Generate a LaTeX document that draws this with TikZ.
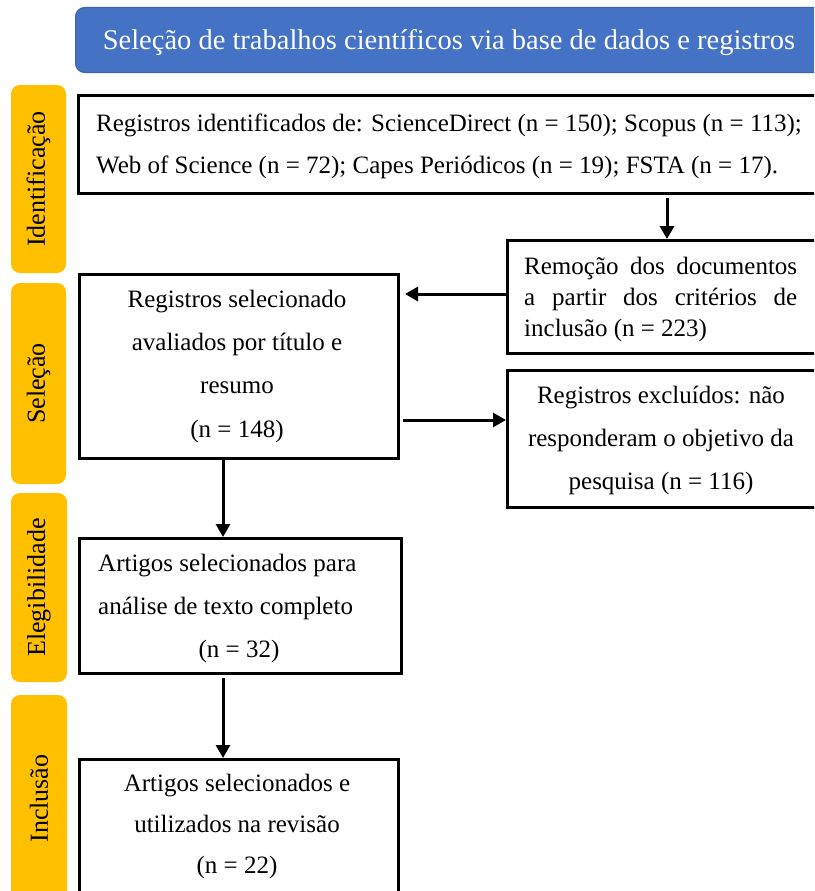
\documentclass[tikz,border=0pt]{standalone}
\usepackage{fontspec}
\setmainfont{Liberation Serif}
\usetikzlibrary{arrows.meta}
\definecolor{hdrblue}{HTML}{4472C4}
\definecolor{hdredge}{HTML}{3B65B0}
\definecolor{lblgold}{HTML}{FFC000}
\begin{document}
\begin{tikzpicture}[x=1pt,y=-1pt,
  boxnode/.style={draw=black, line width=3pt, rectangle, inner sep=0pt, anchor=north west},
  lblnode/.style={fill=lblgold, rounded corners=9pt, rotate=90, inner sep=0pt, font=\fontsize{26}{30}\selectfont},
  txt/.style={inner sep=0pt, font=\fontsize{25}{43.3}\selectfont, align=center, anchor=north},
  arr/.style={line width=3pt, -{Triangle[length=13pt,width=14pt]}}]
\useasboundingbox (0,0) rectangle (814,891);
\clip (0,0) rectangle (814,891);

% header
\node[fill=hdrblue, draw=hdredge, line width=1pt, rounded corners=9pt, minimum width=755pt, minimum height=65pt, anchor=north west, inner sep=0pt] (hdr) at (75,7) {};
\node[inner sep=0pt, anchor=base, text=white, font=\fontsize{28.5}{34}\selectfont] (thdr) at (449,50) {Seleção de trabalhos científicos via base de dados e registros};

% side labels
\node[lblnode, minimum width=188pt, minimum height=55pt] (l1) at (38.5,179) {Identificação};
\node[lblnode, minimum width=201pt, minimum height=55pt] (l2) at (38.5,383.5) {Seleção};
\node[lblnode, minimum width=189pt, minimum height=56pt] (l3) at (39,587.5) {Elegibilidade};
\node[lblnode, minimum width=207pt, minimum height=56pt] (l4) at (39,798.5) {Inclusão};

% boxes
\node[boxnode, minimum width=753pt, minimum height=98pt] (b1) at (77,94) {};
\node[boxnode, minimum width=324pt, minimum height=113pt] (b2) at (506,239) {};
\node[boxnode, minimum width=319pt, minimum height=184pt] (b3) at (78,273) {};
\node[boxnode, minimum width=324pt, minimum height=137pt] (b4) at (506,369) {};
\node[boxnode, minimum width=322pt, minimum height=135pt] (b5) at (78,537) {};
\node[boxnode, minimum width=319pt, minimum height=160pt] (b6) at (78,758) {};

% texts
\node[txt, align=left, anchor=north west, font=\fontsize{25}{42}\selectfont] (t1) at (96,101.6)
  {\strut Registros identificados de: ScienceDirect (n = 150); Scopus (n = 113);\\
   Web of Science (n = 72); Capes Periódicos (n = 19); FSTA (n = 17).};
\node[txt, align=left, anchor=north west, font=\fontsize{25}{31}\selectfont] (t2) at (524,252.3)
  {\makebox[273pt][s]{\strut Remoção dos documentos}\\
   \makebox[273pt][s]{a partir dos critérios de}\\
   inclusão (n = 223)};
\node[txt] (t3) at (237,276.7)
  {\strut Registros selecionado\\ avaliados por título e\\ resumo\\ (n = 148)};
\node[txt] (t4) at (661,372.7)
  {\strut Registros excluídos: não\\ responderam o objetivo da\\ pesquisa (n = 116)};
\node[txt, align=left, anchor=north west] (t5) at (98,540.7)
  {\strut Artigos selecionados para\\ análise de texto completo};
\node[inner sep=0pt, anchor=base, font=\fontsize{25}{43}\selectfont] (t5n) at (239,657) {(n = 32)};
\node[txt, font=\fontsize{25}{41}\selectfont] (t6) at (237,762.3)
  {\strut Artigos selecionados e\\ utilizados na revisão\\ (n = 22)};

% connectors
\coordinate (cx1) at (667,0);
\coordinate (cx2) at (223,0);
\coordinate (cy1) at (0,294);
\coordinate (cy2) at (0,420);
\draw[arr, shorten <=3pt] (cx1 |- b1.south) -- (cx1 |- b2.north);
\draw[arr, shorten >=5pt] (b2.west |- cy1) -- (b3.east |- cy1);
\draw[arr, shorten <=3pt] (b3.east |- cy2) -- (b4.west |- cy2);
\draw[arr] (cx2 |- b3.south) -- (cx2 |- b5.north);
\draw[arr, shorten <=3pt] (cx2 |- b5.south) -- (cx2 |- b6.north);
\end{tikzpicture}
\end{document}
